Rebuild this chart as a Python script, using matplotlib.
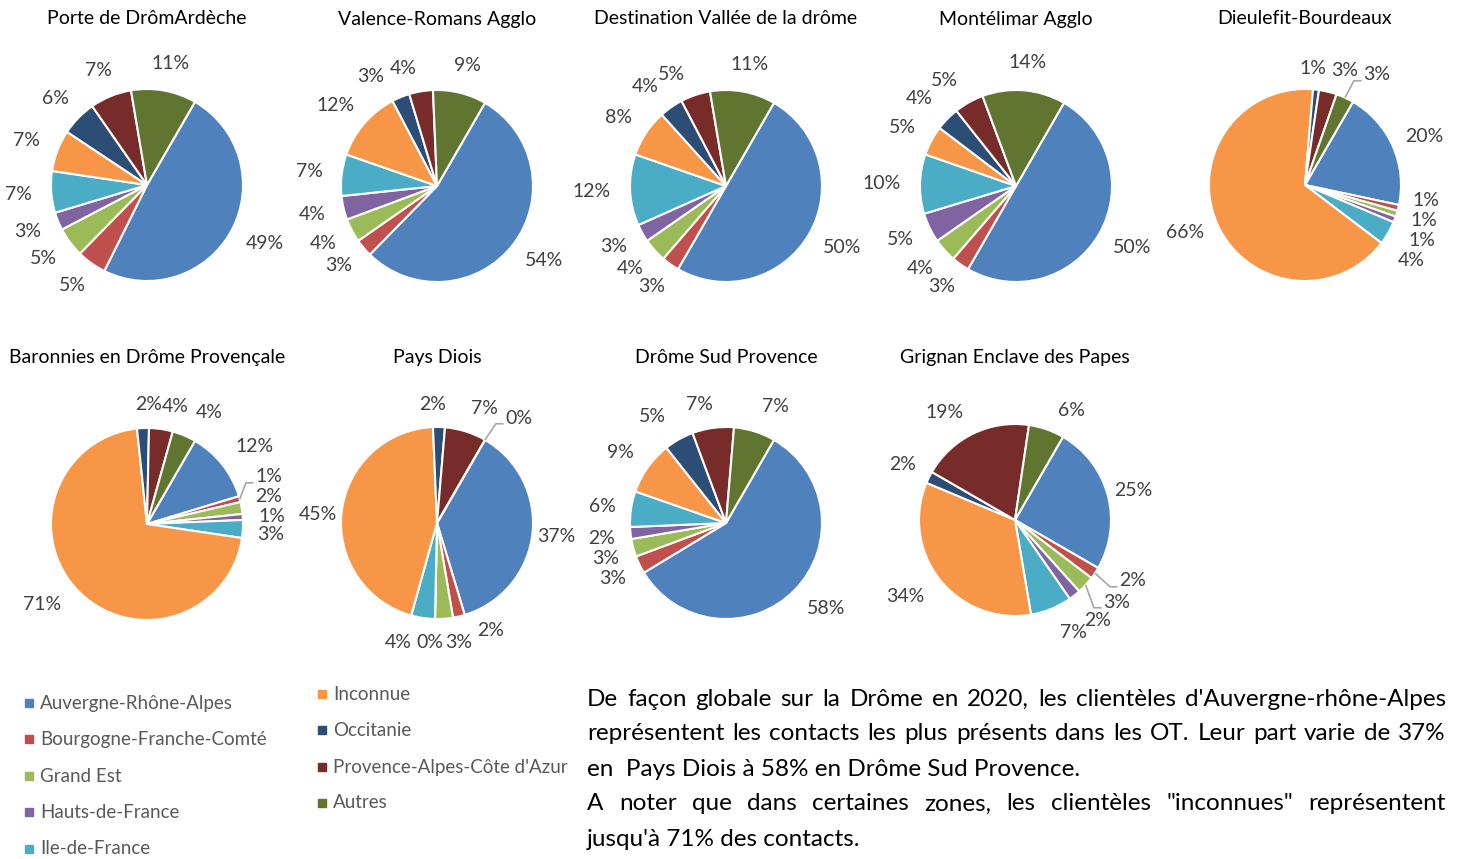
import numpy as np
import matplotlib
matplotlib.use("Agg")
import matplotlib.pyplot as plt

plt.rcParams['font.family'] = ['Lato', 'DejaVu Sans']

# ---------------------------------------------------
# DATA
# ---------------------------------------------------
regions = ["Auvergne-Rhône-Alpes", "Bourgogne-Franche-Comté", "Grand Est",
           "Hauts-de-France", "Ile-de-France", "Inconnue", "Occitanie",
           "Provence-Alpes-Côte d'Azur", "Autres"]
colors = ["#4F81BD", "#C0504D", "#9BBB59", "#8064A2", "#4BACC6",
          "#F79646", "#2C4D75", "#772C2A", "#5F7530"]

zones = ["Porte de DrômArdèche", "Valence-Romans Agglo",
         "Destination Vallée de la drôme", "Montélimar Agglo",
         "Dieulefit-Bourdeaux", "Baronnies en Drôme Provençale",
         "Pays Diois", "Drôme Sud Provence", "Grignan Enclave des Papes"]

porte = [49, 5, 5, 3, 7, 7, 6, 7, 11]
valence = [54, 3, 4, 4, 7, 12, 3, 4, 9]
vallee = [50, 3, 4, 3, 12, 8, 4, 5, 11]
montelimar = [50, 3, 4, 5, 10, 5, 4, 5, 14]
dieulefit = [20, 1, 1, 1, 4, 66, 1, 3, 3]
baronnies = [12, 1, 2, 1, 3, 71, 2, 4, 4]
diois = [37, 2, 3, 0, 4, 45, 2, 7, 0]
sud_provence = [58, 3, 3, 2, 6, 9, 5, 7, 7]
grignan = [25, 2, 3, 2, 7, 34, 2, 19, 6]

shares = [porte, valence, vallee, montelimar, dieulefit,
          baronnies, diois, sud_provence, grignan]

paragraph = [
    ("De façon globale sur la Drôme en 2020, les clientèles d'Auvergne-rhône-Alpes", True),
    ("représentent les contacts les plus présents dans les OT. Leur part varie de 37%", True),
    ("en  Pays Diois à 58% en Drôme Sud Provence.", False),
    ("A noter que dans certaines zones, les clientèles \"inconnues\" représentent", True),
    ("jusqu'à 71% des contacts.", False),
]

# ---------------------------------------------------
# LAYOUT (pixels)
# ---------------------------------------------------
W, H = 1462, 859
R = 96
centers = [(147, 185), (437, 186), (726, 186), (1016, 186), (1305, 185),
           (147, 524), (437, 523), (726, 523), (1015, 520)]
title_y = [19] * 5 + [357] * 4
LABEL_COLOR = "#404040"
LEADER_COLOR = "#A6A6A6"

# hand-placed labels for crowded pies: pie -> {slice: (dx, dy) px from centre}
label_moves = {
    1: {6: (-66, -110), 7: (-34, -118)},
    2: {6: (-81, -100), 7: (-55, -112)},
    3: {6: (-97, -88), 7: (-72, -106)},
    4: {0: (119, -49), 1: (121, 15), 2: (119, 36), 3: (117, 55), 4: (106, 76),
        5: (-120, 48), 6: (8, -117), 7: (40, -115), 8: (72, -110)},
    5: {0: (108, -77), 1: (122, -47), 2: (122, -27), 3: (125, -8), 4: (124, 11),
        5: (-105, 81), 6: (2, -120), 7: (28, -118), 8: (62, -112)},
    6: {0: (119, 14), 1: (54, 108), 2: (22, 119), 3: (-7, 119), 4: (-39, 119),
        5: (-119, -8), 6: (-4, -119), 7: (47, -115), 8: (82, -105)},
    7: {0: (100, 85), 1: (-113, 55), 2: (-120, 35), 3: (-124, 15), 4: (-124, -16),
        5: (-106, -71), 6: (-74, -106), 7: (-27, -119), 8: (49, -116)},
    8: {0: (118, -29), 1: (118, 61), 2: (102, 82), 3: (83, 100), 4: (58, 113),
        5: (-110, 76), 6: (-112, -56), 7: (-70, -108), 8: (56, -110)},
}
leaders = {4: [8], 5: [1], 6: [8], 8: [1, 2]}

fig = plt.figure(figsize=(W / 100, H / 100), dpi=100)
fig.patch.set_facecolor("white")
renderer = fig.canvas.get_renderer()


def fx(px):
    return px / W


def fy(py):
    return 1 - py / H


def draw_pie(k, name, values, center, ty):
    cx, cy = center
    half = 1.6 * R
    ax = fig.add_axes([fx(cx - half), fy(cy + half), 2 * half / W, 2 * half / H])
    wedges, _ = ax.pie(values, colors=colors, startangle=60, counterclock=False,
                       radius=1, wedgeprops=dict(edgecolor="white", linewidth=1.5))
    ax.set_xlim(-1.6, 1.6)
    ax.set_ylim(-1.6, 1.6)
    ax.set_aspect("equal")
    ax.axis("off")
    moves = label_moves.get(k, {})
    for i, (w, v) in enumerate(zip(wedges, values)):
        ang = np.deg2rad((w.theta1 + w.theta2) / 2)
        dx, dy = np.cos(ang), np.sin(ang)
        t = ax.text(0, 0, f"{v}%", ha="center", va="center",
                    fontsize=14, color=LABEL_COLOR)
        bb = t.get_window_extent(renderer)
        wu, hu = bb.width / R, bb.height / R
        if i in moves:
            lx, ly = moves[i][0] / R, -moves[i][1] / R
        else:
            lx, ly = 1.2 * dx + dx * wu / 2, 1.2 * dy + dy * hu / 2
        t.set_position((lx, ly))
        if i in leaders.get(k, []):
            left = lx - wu / 2 - 0.02
            yl = ly - 0.06
            ax.plot([dx, left - 0.08, left], [dy, yl, yl],
                    color=LEADER_COLOR, lw=1.2, solid_capstyle="butt")
    fig.text(fx(cx), fy(ty), name, ha="center", va="center",
             fontsize=14, color="black")


for k, (name, vals, c, ty) in enumerate(zip(zones, shares, centers, title_y)):
    draw_pie(k, name, vals, c, ty)

# ---------------------------------------------------
# LEGEND
# ---------------------------------------------------
leg_pos = [(25, 703), (25, 739), (25, 776), (25, 812), (25, 849),
           (318, 694), (318, 730), (318, 767), (318, 803)]
for lab, col, (lx, ly) in zip(regions, colors, leg_pos):
    fig.patches.append(plt.Rectangle((fx(lx), fy(ly + 4)), 8 / W, 8 / H,
                                     transform=fig.transFigure, color=col))
    fig.text(fx(lx + 15), fy(ly), lab, ha="left", va="center",
             fontsize=13.5, color="#595959")

# ---------------------------------------------------
# JUSTIFIED PARAGRAPH
# ---------------------------------------------------
x0, x1 = 587, 1446
line_y = [699, 734, 769, 804, 839]
for (line, justify), ly in zip(paragraph, line_y):
    words = line.split(" ")
    if not justify:
        fig.text(fx(x0), fy(ly), line, ha="left", va="center",
                 fontsize=17.5, color="black")
        continue
    texts = [fig.text(0, fy(ly), wd, ha="left", va="center",
                      fontsize=17.5, color="black") for wd in words]
    widths = [t.get_window_extent(renderer).width for t in texts]
    gap = (x1 - x0 - sum(widths)) / (len(words) - 1)
    x = x0
    for t, wpx in zip(texts, widths):
        t.set_x(fx(x))
        x += wpx + gap

fig.savefig("out.png", dpi=100)
